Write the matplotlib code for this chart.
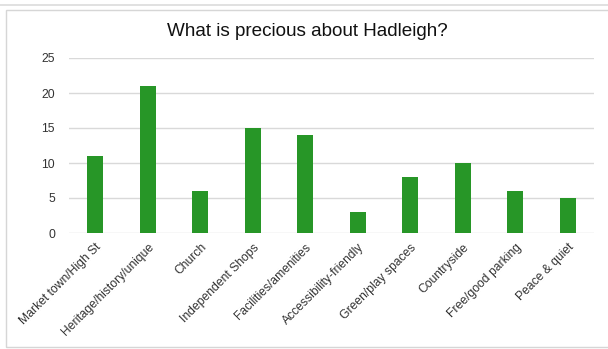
import matplotlib
matplotlib.use("Agg")
import matplotlib.pyplot as plt
from matplotlib.patches import Rectangle
from matplotlib.lines import Line2D

plt.rcParams['font.family'] = ['Liberation Sans', 'DejaVu Sans']

categories = ['Market town/High St', 'Heritage/history/unique', 'Church',
              'Independent Shops', 'Facilities/amenities', 'Accessibility-friendly',
              'Green/play spaces', 'Countryside', 'Free/good parking', 'Peace & quiet']
counts = [11, 21, 6, 15, 14, 3, 8, 10, 6, 5]
y_ticks = [0, 5, 10, 15, 20, 25]

W, H = 608, 349
fig = plt.figure(figsize=(W / 100, H / 100), dpi=100)
fig.patch.set_facecolor('white')

# thin strip line across the top and the chart's frame
fig.add_artist(Line2D([0, 1], [1 - 5 / H, 1 - 5 / H], transform=fig.transFigure,
                      color='#dcdcdc', lw=1.2))
fig.add_artist(Rectangle((6 / W, 2 / H), 1.0, 1 - 12 / H, transform=fig.transFigure,
                         fill=False, edgecolor='#d6d6d6', lw=1.0))

ax = fig.add_axes([69 / W, 1 - 233 / H, (594 - 69) / W, (233 - 58) / H])
x = range(len(categories))
ax.bar(x, counts, width=0.31, color='#279627', zorder=3)

ax.set_xlim(-0.5, len(categories) - 0.5)
ax.set_ylim(0, 25)
ax.set_yticks(y_ticks)
ax.set_yticklabels([str(v) for v in y_ticks], fontsize=8.8, color='#333333')
ax.set_xticks(list(x))
ax.set_xticklabels(categories, rotation=45, ha='right', rotation_mode='anchor',
                   fontsize=8.7, color='#333333')
ax.tick_params(axis='both', length=0, pad=6)
ax.tick_params(axis='y', pad=10)
ax.grid(axis='y', color='#d9d9d9', lw=1.0, zorder=0)
for s in ax.spines.values():
    s.set_visible(False)

fig.text(307 / W, 1 - 32 / H, 'What is precious about Hadleigh?', ha='center',
         va='center', fontsize=13.6, color='#111111')

fig.savefig('out.png', dpi=100, facecolor='white')
